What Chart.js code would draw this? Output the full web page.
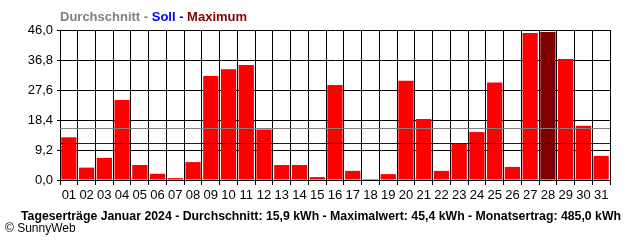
<!DOCTYPE html>
<html>
<head>
<meta charset="utf-8">
<script src="https://cdn.jsdelivr.net/npm/chart.js@4/dist/chart.umd.min.js"></script>
<style>
  body { margin: 0; background: #fff; }
  #box { width: 640px; height: 240px; }
</style>
</head>
<body>
<div id="box"><canvas id="tage"></canvas></div>
<script>
const tage = ['01', '02', '03', '04', '05', '06', '07', '08', '09', '10', '11', '12', '13', '14', '15', '16',
  '17', '18', '19', '20', '21', '22', '23', '24', '25', '26', '27', '28', '29', '30', '31'];
const ertrag = [13.1, 3.8, 6.8, 24.5, 4.6, 1.9, 0.6, 5.5, 31.9, 34.0, 35.3, 15.5, 4.6, 4.6, 0.9, 29.1,
  2.8, 0.3, 1.8, 30.4, 18.7, 2.8, 11.3, 14.7, 29.9, 4.0, 45.1, 45.4, 37.1, 16.6, 7.4];
const maxTag = '28';
const durchschnitt = 15.9;
const soll = 11.3;
const yTicks = [0, 9.2, 18.4, 27.6, 36.8, 46.0];

const schrift = "'Liberation Sans Narrow', 'Liberation Sans', Arial, sans-serif";

// waagrechte Linien fuer Durchschnitt und Soll
const linien = {
  id: 'linien',
  afterDatasetsDraw(chart) {
    const { ctx, chartArea, scales } = chart;
    [[durchschnitt, '#808080'], [soll, '#0000ff']].forEach(([wert, farbe]) => {
      const y = Math.round(scales.y.getPixelForValue(wert)) + 0.5;
      ctx.save();
      ctx.strokeStyle = farbe;
      ctx.lineWidth = 1;
      ctx.beginPath();
      ctx.moveTo(chartArea.left, y);
      ctx.lineTo(chartArea.right, y);
      ctx.stroke();
      ctx.restore();
    });
  }
};

// Texte oben und unten
const texte = {
  id: 'texte',
  afterDraw(chart) {
    const ctx = chart.ctx;
    ctx.save();
    ctx.textBaseline = 'middle';
    ctx.font = "bold 13px " + schrift;
    let x = 60;
    [['Durchschnitt - ', '#808080'], ['Soll - ', '#0000ff'], ['Maximum', '#800000']].forEach(([t, f]) => {
      ctx.fillStyle = f;
      ctx.fillText(t, x, 17);
      x += ctx.measureText(t).width;
    });
    ctx.fillStyle = '#000';
    ctx.textAlign = 'center';
    ctx.fillText('Tageserträge Januar 2024 - Durchschnitt: 15,9 kWh - Maximalwert: 45,4 kWh - Monatsertrag: 485,0 kWh', 321, 216, 600);
    ctx.textAlign = 'left';
    ctx.font = "12px " + schrift;
    ctx.fillText('© SunnyWeb', 5, 229);
    ctx.restore();
  }
};

new Chart(document.getElementById('tage'), {
  type: 'bar',
  data: {
    labels: tage,
    datasets: [{
      label: 'Tagesertrag',
      data: ertrag,
      backgroundColor: tage.map(t => t === maxTag ? '#800000' : '#ff0000'),
      barPercentage: 0.86,
      categoryPercentage: 1.0
    }]
  },
  options: {
    responsive: true,
    maintainAspectRatio: false,
    animation: false,
    layout: { padding: { top: 30, right: 30, left: 0, bottom: 0 } },
    plugins: {
      legend: { display: false },
      tooltip: { enabled: false }
    },
    scales: {
      x: {
        grid: { color: '#000', offset: true, tickLength: 5 },
        border: { color: '#000' },
        ticks: { color: '#000', font: { family: schrift, size: 13 }, padding: 3, maxRotation: 0, autoSkip: false },
        afterFit: s => { s.height = 60; }
      },
      y: {
        min: 0,
        max: 46,
        afterBuildTicks: s => { s.ticks = yTicks.map(v => ({ value: v })); },
        grid: { color: '#000', tickLength: 3 },
        border: { color: '#000' },
        ticks: {
          color: '#000',
          font: { family: schrift, size: 13 },
          padding: 4,
          callback: v => v.toFixed(1).replace('.', ',')
        },
        afterFit: s => { s.width = 60; }
      }
    }
  },
  plugins: [linien, texte]
});
</script>
</body>
</html>
